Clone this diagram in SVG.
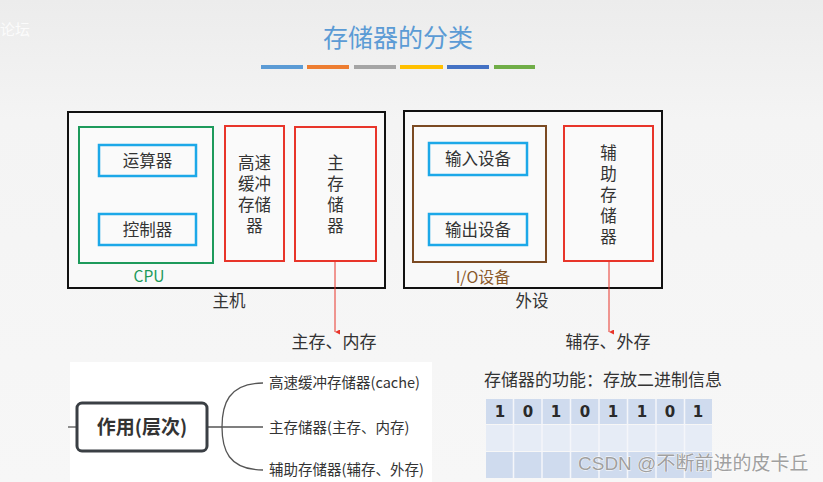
<svg xmlns="http://www.w3.org/2000/svg" width="823" height="482" viewBox="0 0 823 482">
<defs>
<linearGradient id="bg" x1="0" y1="0" x2="0" y2="1">
<stop offset="0" stop-color="#ececec"/>
<stop offset="0.25" stop-color="#f4f4f4"/>
<stop offset="1" stop-color="#f7f7f7"/>
</linearGradient>
<marker id="arr" viewBox="0 0 10 10" refX="5" refY="10" markerWidth="5" markerHeight="5" orient="auto-start-reverse" markerUnits="userSpaceOnUse">
<path d="M0,0 L10,0 L5,10 z" fill="#e8352a"/>
</marker>
<style>
.serif{font-family:"Liberation Serif","Noto Sans CJK SC",serif;fill:#333}
.sans{font-family:"Noto Sans CJK SC","Noto Sans",sans-serif}
.outer{fill:#f9f9f9;stroke:#111;stroke-width:2}
.red{fill:#fafafa;stroke:#e8352a;stroke-width:2}
.blue{fill:#fafafa;stroke:#1ca8e8;stroke-width:2.5}
.lbl{font-size:16.5px}
.vt{font-size:16.5px;text-anchor:middle}
.conn{fill:none;stroke:#e8352a;stroke-width:1}
.mm{fill:none;stroke:#555;stroke-width:1.3}
.branch{font-size:14.5px;fill:#333}
.cell1{fill:#cfdbee}
.cell2{fill:#e6ecf6}
.digit{font-family:"DejaVu Sans","Liberation Sans",sans-serif;font-weight:bold;font-size:15px;fill:#2a2a2a;text-anchor:middle}
</style>
</defs>
<rect width="823" height="482" fill="url(#bg)"/>
<text x="0" y="35" class="sans" font-size="15" fill="#ffffff" opacity="0.8">论坛</text>

<g id="title">
<text x="398" y="47" class="serif" font-size="25" text-anchor="middle" style="fill:#5b9bd5">存储器的分类</text>
<rect x="261" y="65" width="42" height="4" fill="#5b9bd5"/>
<rect x="307" y="65" width="42" height="4" fill="#ed7d31"/>
<rect x="354" y="65" width="42" height="4" fill="#a5a5a5"/>
<rect x="400" y="65" width="43" height="4" fill="#ffc000"/>
<rect x="447" y="65" width="42" height="4" fill="#4472c4"/>
<rect x="494" y="65" width="41" height="4" fill="#70ad47"/>
</g>

<g id="host">
<rect class="outer" x="68" y="112" width="317" height="176"/>
<text x="229" y="307" class="serif lbl" text-anchor="middle">主机</text>
</g>
<g id="cpu">
<rect x="79" y="127" width="134" height="136" fill="#fafafa" stroke="#1d9a5b" stroke-width="2"/>
<text x="149" y="282" class="sans" font-size="15.5" text-anchor="middle" fill="#1d9a5b">CPU</text>
</g>
<g id="alu">
<rect class="blue" x="99" y="145" width="97" height="31"/>
<text x="147.5" y="166.5" class="serif lbl" text-anchor="middle">运算器</text>
</g>
<g id="ctrl">
<rect class="blue" x="99" y="214" width="97" height="31"/>
<text x="147.5" y="235.5" class="serif lbl" text-anchor="middle">控制器</text>
</g>
<g id="cache">
<rect class="red" x="225" y="126" width="59" height="135"/>
<text class="serif vt"><tspan x="254.5" y="169">高速</tspan><tspan x="254.5" y="190">缓冲</tspan><tspan x="254.5" y="211">存储</tspan><tspan x="254.5" y="232">器</tspan></text>
</g>
<g id="mainmem">
<rect class="red" x="295" y="127" width="81" height="134"/>
<text class="serif vt"><tspan x="335.5" y="169">主</tspan><tspan x="335.5" y="190">存</tspan><tspan x="335.5" y="211">储</tspan><tspan x="335.5" y="232">器</tspan></text>
</g>

<g id="periph">
<rect class="outer" x="404" y="111" width="258" height="177"/>
<text x="532" y="307" class="serif lbl" text-anchor="middle">外设</text>
</g>
<g id="io">
<rect x="413" y="126" width="133" height="136" fill="#fafafa" stroke="#7b4a22" stroke-width="2"/>
<text x="483" y="282.5" class="sans" font-size="16" text-anchor="middle" fill="#8a5a2b">I/O设备</text>
</g>
<g id="input">
<rect class="blue" x="429" y="143" width="98" height="32"/>
<text x="478" y="165" class="serif lbl" text-anchor="middle">输入设备</text>
</g>
<g id="output">
<rect class="blue" x="429" y="214" width="98" height="31"/>
<text x="478" y="235.5" class="serif lbl" text-anchor="middle">输出设备</text>
</g>
<g id="auxmem">
<rect class="red" x="564" y="126" width="89" height="135"/>
<text class="serif vt"><tspan x="608.5" y="159">辅</tspan><tspan x="608.5" y="180">助</tspan><tspan x="608.5" y="201">存</tspan><tspan x="608.5" y="222">储</tspan><tspan x="608.5" y="243">器</tspan></text>
</g>

<g id="connectors">
<line class="conn" x1="335" y1="261" x2="335" y2="332" marker-end="url(#arr)"/>
<line class="conn" x1="609" y1="261" x2="609" y2="332" marker-end="url(#arr)"/>
</g>
<g id="lbl-main">
<text x="334" y="348" class="serif" font-size="17" text-anchor="middle">主存、内存</text>
</g>
<g id="lbl-aux">
<text x="608" y="348" class="serif" font-size="17" text-anchor="middle">辅存、外存</text>
</g>

<g id="mindmap">
<rect x="70" y="362" width="362" height="120" fill="#ffffff"/>
<line class="mm" x1="68" y1="427" x2="77" y2="427" stroke-width="2.5" stroke="#333"/>
<line class="mm" x1="207" y1="427" x2="263" y2="427"/>
<path class="mm" d="M263,383 C228,383 222,405 222,427 C222,449 228,470 263,470"/>
<g id="role">
<rect x="77" y="403" width="130" height="48" rx="5" fill="#ffffff" stroke="#3a3f44" stroke-width="3"/>
<text x="142" y="434" class="sans" font-size="19" font-weight="bold" text-anchor="middle" fill="#333">作用(层次)</text>
</g>
<text x="269" y="388" class="sans branch">高速缓冲存储器(cache)</text>
<text x="269" y="433" class="sans branch">主存储器(主存、内存)</text>
<text x="269" y="475" class="sans branch">辅助存储器(辅存、外存)</text>
</g>

<g id="table">
<text x="484" y="386" class="serif" font-size="17">存储器的功能：存放二进制信息</text>
<g>
<rect class="cell1" x="486" y="399" width="226" height="25"/>
<rect class="cell2" x="486" y="425" width="226" height="26"/>
<rect class="cell1" x="486" y="452" width="226" height="26"/>
<g stroke="#f4f6fa" stroke-width="1.5">
<line x1="513.5" y1="399" x2="513.5" y2="478"/>
<line x1="542" y1="399" x2="542" y2="478"/>
<line x1="570.5" y1="399" x2="570.5" y2="478"/>
<line x1="599" y1="399" x2="599" y2="478"/>
<line x1="627.5" y1="399" x2="627.5" y2="478"/>
<line x1="656" y1="399" x2="656" y2="478"/>
<line x1="684.5" y1="399" x2="684.5" y2="478"/>
</g>
<text class="digit" y="417"><tspan x="500">1</tspan><tspan x="528">0</tspan><tspan x="556">1</tspan><tspan x="585">0</tspan><tspan x="613">1</tspan><tspan x="642">1</tspan><tspan x="670">0</tspan><tspan x="698">1</tspan></text>
</g>
</g>

<text x="578" y="470" font-family="Liberation Sans,Noto Sans CJK SC,sans-serif" font-size="19" fill="#a0a0a0" stroke="#ffffff" stroke-width="0.8" paint-order="stroke">CSDN @不断前进的皮卡丘</text>
</svg>
